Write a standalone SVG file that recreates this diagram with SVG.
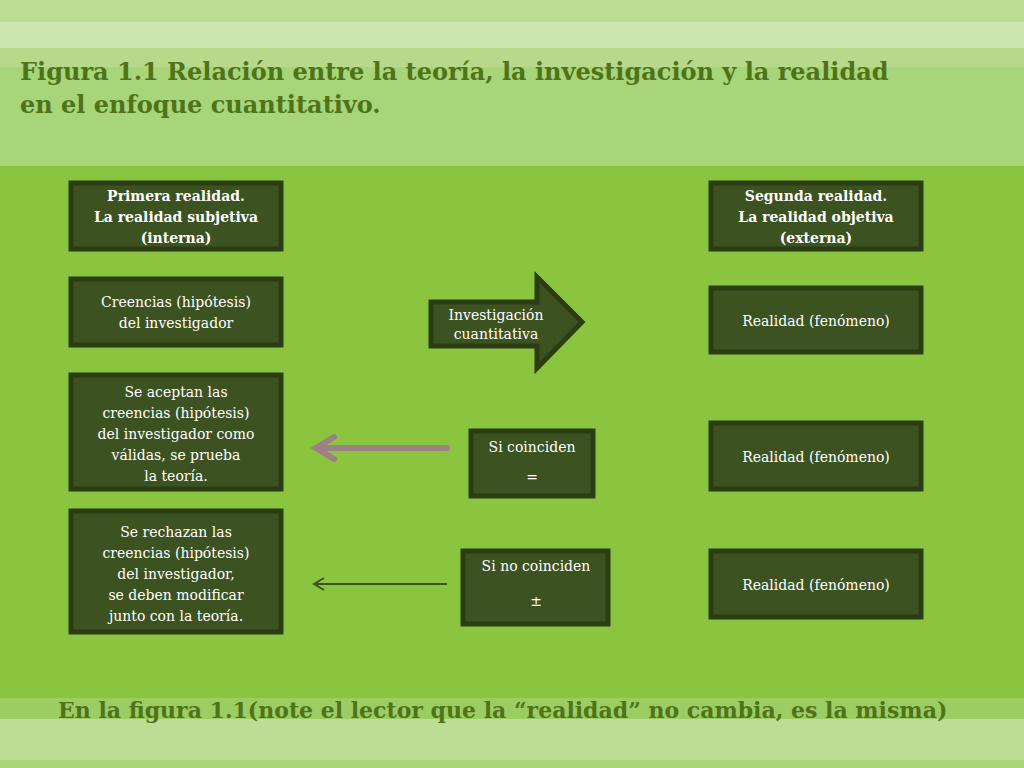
<svg xmlns="http://www.w3.org/2000/svg" width="1024" height="768" viewBox="0 0 1024 768">
<defs>
<style>
.box{fill:#3d5221;stroke:#2b3d12;stroke-width:5}
.t{font-family:"DejaVu Serif",serif;font-size:14px;fill:#fff;text-anchor:middle}
.tb{font-family:"DejaVu Serif",serif;font-size:14px;font-weight:bold;fill:#fff;text-anchor:middle}
.h{font-family:"DejaVu Serif",serif;font-weight:bold;fill:#4f7318}
</style>
</defs>
<rect width="1024" height="768" fill="#8bc53f"/>
<rect y="0" width="1024" height="22" fill="#bcdc94"/>
<rect y="22" width="1024" height="26" fill="#cde6b0"/>
<rect y="48" width="1024" height="19" fill="#b6d98a"/>
<rect y="67" width="1024" height="99" fill="#a8d47a"/>
<rect y="698" width="1024" height="21" fill="#9ccd63"/>
<rect y="719" width="1024" height="41" fill="#bddd95"/>
<rect y="760" width="1024" height="8" fill="#a8d47a"/>
<text class="h" font-size="24"><tspan x="20" y="80">Figura 1.1 Relación entre la teoría, la investigación y la realidad</tspan><tspan x="20" y="113">en el enfoque cuantitativo.</tspan></text>
<g id="n1"><rect class="box" x="71" y="183" width="210" height="66"/><text class="tb"><tspan x="176" y="201">Primera realidad.</tspan><tspan x="176" y="222">La realidad subjetiva</tspan><tspan x="176" y="243">(interna)</tspan></text></g>
<g id="n2"><rect class="box" x="711" y="183" width="210" height="66"/><text class="tb"><tspan x="816" y="201">Segunda realidad.</tspan><tspan x="816" y="222">La realidad objetiva</tspan><tspan x="816" y="243">(externa)</tspan></text></g>
<g id="n3"><rect class="box" x="71" y="279" width="210" height="66"/><text class="t"><tspan x="176" y="307">Creencias (hipótesis)</tspan><tspan x="176" y="328">del investigador</tspan></text></g>
<g id="n4"><polygon points="431,302 537,302 537,277 582,322 537,368 537,346 431,346" class="box"/><text class="t"><tspan x="496" y="320">Investigación</tspan><tspan x="496" y="339">cuantitativa</tspan></text></g>
<g id="n5"><rect class="box" x="711" y="288" width="210" height="64"/><text class="t" x="816" y="326">Realidad (fenómeno)</text></g>
<g id="n6"><rect class="box" x="71" y="375" width="210" height="114"/><text class="t"><tspan x="176" y="397">Se aceptan las</tspan><tspan x="176" y="418">creencias (hipótesis)</tspan><tspan x="176" y="439">del investigador como</tspan><tspan x="176" y="460">válidas, se prueba</tspan><tspan x="176" y="481">la teoría.</tspan></text></g>
<g id="n7"><rect class="box" x="471" y="431" width="122" height="65"/><text class="t" x="532" y="452">Si coinciden</text><text class="t" x="532" y="482" font-size="22" font-family="DejaVu Sans,sans-serif">=</text></g>
<g id="n8"><rect class="box" x="711" y="423" width="210" height="66"/><text class="t" x="816" y="462">Realidad (fenómeno)</text></g>
<g id="n9"><rect class="box" x="71" y="511" width="210" height="121"/><text class="t"><tspan x="176" y="537">Se rechazan las</tspan><tspan x="176" y="558">creencias  (hipótesis)</tspan><tspan x="176" y="579">del investigador,</tspan><tspan x="176" y="600">se deben modificar</tspan><tspan x="176" y="621">junto con la teoría.</tspan></text></g>
<g id="n10"><rect class="box" x="463" y="551" width="145" height="73"/><text class="t" x="536" y="571">Si no coinciden</text><text class="t" x="536" y="606" font-size="26" font-family="DejaVu Sans,sans-serif">±</text></g>
<g id="n11"><rect class="box" x="711" y="551" width="210" height="66"/><text class="t" x="816" y="590">Realidad (fenómeno)</text></g>
<g id="connectors">
<g stroke="#9c8185" stroke-width="6" stroke-linecap="round" fill="none"><line x1="447" y1="448" x2="318" y2="448"/><polyline points="334,437 316,448 334,459"/></g>
<g stroke="#3d5221" stroke-width="2" fill="none"><line x1="447" y1="584" x2="314" y2="584"/><polyline points="324,578 314,584 324,590"/></g>
</g>
<text class="h" font-size="22" x="58" y="718">En la figura  1.1(note el lector que la “realidad” no cambia, es la misma)</text>
</svg>
